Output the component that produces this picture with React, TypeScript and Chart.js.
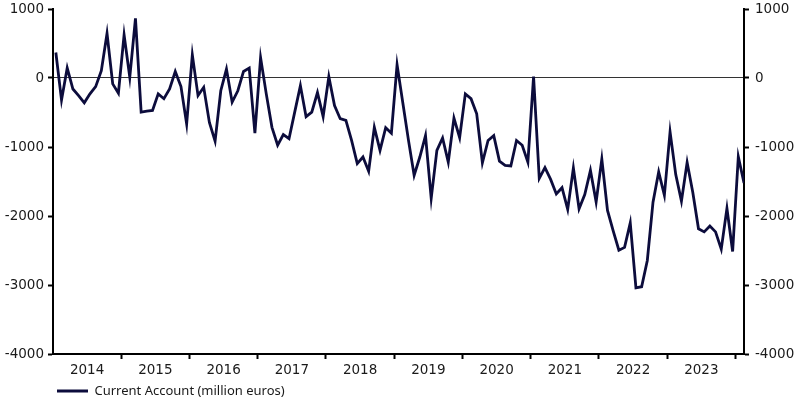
import React, { useEffect, useRef } from 'react';
import { Chart, registerables } from 'chart.js';

Chart.register(...registerables);

// Monthly data, Jan 2014 .. Feb 2024 (million euros)
const yearLabels = ['2014', '2015', '2016', '2017', '2018', '2019', '2020', '2021', '2022', '2023'];

const currentAccount = [
  // 2014
  370, -320, 145, -160, -255, -360, -230, -125, 105, 645, -85, -220,
  // 2015
  625, 10, 865, -495, -480, -470, -230, -300, -160, 95, -125, -665,
  // 2016
  335, -255, -135, -645, -915, -185, 130, -350, -185, 95, 145, -800,
  // 2017
  295, -230, -715, -975, -820, -880, -495, -110, -560, -495, -210, -560,
  // 2018
  20, -400, -590, -615, -905, -1240, -1145, -1350, -715, -1050, -720, -800,
  // 2019
  190, -355, -900, -1410, -1145, -835, -1745, -1050, -870, -1220, -580, -865,
  // 2020
  -230, -300, -520, -1230, -905, -835, -1205, -1265, -1275, -905, -975, -1220,
  // 2021
  20, -1455, -1300, -1470, -1680, -1590, -1905, -1305, -1895, -1690, -1340, -1795,
  // 2022
  -1175, -1920, -2215, -2495, -2455, -2100, -3040, -3025, -2645, -1800, -1360, -1700,
  // 2023
  -780, -1400, -1785, -1225, -1660, -2185, -2230, -2145, -2230, -2480, -1890, -2515,
  // 2024
  -1140, -1520,
];

const yMin = -4000;
const yMax = 1000;
const yStep = 1000;
const seriesLabel = 'Current Account (million euros)';

const NAVY = '#0c0c3c';
const TEXT = '#1a1a1a';
const tickFont = { family: 'DejaVu Sans', size: 13.5 };

export default function App() {
  const ref = useRef<HTMLCanvasElement>(null);

  useEffect(() => {
    if (!ref.current) return;
    const points = currentAccount.map((v, i) => ({ x: i, y: v }));
    const yearBoundaries = yearLabels.map((_, k) => 11.5 + 12 * k);
    const yearCentres = yearLabels.map((_, k) => 5.5 + 12 * k);

    const yCommon = (side: 'left' | 'right', width: number, pad: number, onArea: boolean) => ({
      type: 'linear' as const,
      position: side,
      min: yMin,
      max: yMax,
      afterFit: (s: any) => {
        s.width = width;
        s.paddingTop = 0;
        s.paddingBottom = 0;
      },
      grid: {
        drawOnChartArea: onArea,
        color: (ctx: any) => (ctx.tick && ctx.tick.value === 0 ? '#333333' : 'rgba(0,0,0,0)'),
        lineWidth: 1,
        tickLength: 5,
        tickColor: '#000',
        tickWidth: 2,
      },
      border: { display: true, color: '#000', width: 2 },
      ticks: {
        stepSize: yStep,
        padding: pad,
        color: TEXT,
        font: tickFont,
        callback: (value: any) => String(value),
      },
    });

    const chart = new Chart(ref.current, {
      type: 'line',
      data: {
        datasets: [
          {
            label: seriesLabel,
            data: points,
            borderColor: NAVY,
            backgroundColor: NAVY,
            borderWidth: 2.8,
            pointRadius: 0,
            tension: 0,
            yAxisID: 'y',
          },
        ],
      },
      options: {
        animation: false,
        responsive: true,
        maintainAspectRatio: false,
        layout: { padding: { top: 9, left: 0, right: 0, bottom: -5.5 } },
        plugins: {
          legend: {
            position: 'bottom',
            align: 'start',
            fullSize: false,
            labels: {
              usePointStyle: true,
              pointStyle: 'line',
              pointStyleWidth: 31,
              padding: 4,
              color: TEXT,
              font: { family: 'Noto Sans', size: 13 },
            },
          },
          tooltip: { enabled: false },
        },
        scales: {
          x: {
            type: 'linear',
            min: -0.5,
            max: 121,
            afterBuildTicks: (s: any) => {
              const vals = [...yearCentres, ...yearBoundaries].sort((a, b) => a - b);
              s.ticks = vals.map((v) => ({ value: v }));
            },
            afterFit: (s: any) => {
              s.height = 26.5;
              s.paddingLeft = 0;
              s.paddingRight = 0;
            },
            grid: {
              drawOnChartArea: false,
              tickLength: 5,
              tickWidth: 2,
              tickColor: (ctx: any) =>
                ctx.tick && yearBoundaries.includes(ctx.tick.value) ? '#000' : 'rgba(0,0,0,0)',
            },
            border: { display: true, color: '#000', width: 2 },
            ticks: {
              autoSkip: false,
              maxRotation: 0,
              minRotation: 0,
              padding: 3,
              color: TEXT,
              font: tickFont,
              callback: (value: any) => {
                const k = yearCentres.indexOf(Number(value));
                return k >= 0 ? yearLabels[k] : '';
              },
            },
          },
          y: yCommon('left', 53, 4, true),
          y2: yCommon('right', 56, 6, false),
        },
      },
    } as any);

    return () => chart.destroy();
  }, []);

  return (
    <div style={{ position: 'fixed', left: 0, top: 0, width: 800, height: 402, background: '#fff' }}>
      <canvas ref={ref} />
    </div>
  );
}
